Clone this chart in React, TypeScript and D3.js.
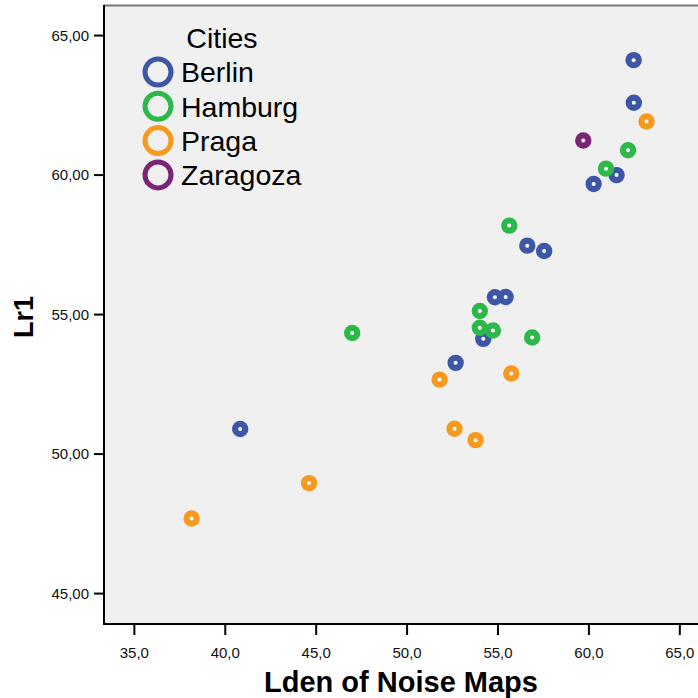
import * as d3 from "d3";

// Scatter: Lden of noise maps vs Lr1, one colour per city.

const cities = ["Berlin", "Hamburg", "Praga", "Zaragoza"];
const cityColors = ["#3d56a8", "#2fb84a", "#f7991e", "#7a2478"];

const berlinX = [62.46, 62.47, 61.52, 60.26, 56.61, 57.54, 54.83, 55.42, 54.19, 52.67, 40.82];
const berlinY = [64.12, 62.59, 60.0, 59.68, 57.47, 57.28, 55.62, 55.63, 54.13, 53.27, 50.9];
const hamburgX = [62.15, 60.94, 55.62, 54.0, 54.0, 54.72, 56.88, 46.98];
const hamburgY = [60.89, 60.23, 58.19, 55.13, 54.53, 54.43, 54.18, 54.34];
const pragaX = [63.17, 55.73, 51.79, 52.61, 53.77, 44.61, 38.15];
const pragaY = [61.92, 52.89, 52.67, 50.91, 50.5, 48.96, 47.69];
const zaragozaX = [59.69];
const zaragozaY = [61.24];

const xTicks = [35, 40, 45, 50, 55, 60, 65];
const yTicks = [45, 50, 55, 60, 65];

const W = 698;
const H = 698;
const FONT = "'Liberation Sans', Arial, sans-serif";

export default function App() {
  const x = d3.scaleLinear().domain([33.33, 66.0]).range([104, 698]);
  const y = d3.scaleLinear().domain([43.91, 66.06]).range([624, 6]);

  const series = [
    { xs: berlinX, ys: berlinY },
    { xs: hamburgX, ys: hamburgY },
    { xs: pragaX, ys: pragaY },
    { xs: zaragozaX, ys: zaragozaY },
  ];

  const fmtX = (v: number) => v.toFixed(1).replace(".", ",");
  const fmtY = (v: number) => v.toFixed(2).replace(".", ",");

  return (
    <svg
      width={W}
      height={H}
      style={{ position: "absolute", left: 0, top: 0, background: "#fff" }}
      fontFamily={FONT}
    >
      {/* plot area */}
      <rect x={104} y={6} width={W - 104} height={618} fill="#f0f0f0" />
      <line x1={104} x2={W} y1={5.5} y2={5.5} stroke="#777" strokeWidth={2} />
      <line x1={104} x2={104} y1={5} y2={625} stroke="#000" strokeWidth={2} />
      <line x1={103} x2={W} y1={624} y2={624} stroke="#000" strokeWidth={2} />

      {/* y axis */}
      {yTicks.map((t) => (
        <g key={t}>
          <line x1={94} x2={104} y1={y(t)} y2={y(t)} stroke="#000" strokeWidth={2} />
          <text x={89} y={y(t)} dy="0.35em" textAnchor="end" fontSize={15} fill="#111">
            {fmtY(t)}
          </text>
        </g>
      ))}

      {/* x axis */}
      {xTicks.map((t) => (
        <g key={t}>
          <line x1={x(t)} x2={x(t)} y1={624} y2={635} stroke="#000" strokeWidth={2} />
          <text x={x(t)} y={658} textAnchor="middle" fontSize={15} fill="#111">
            {fmtX(t)}
          </text>
        </g>
      ))}

      <text x={401} y={692} textAnchor="middle" fontSize={29} fontWeight="bold">
        Lden of Noise Maps
      </text>
      <text
        transform="translate(33,317) rotate(-90)"
        textAnchor="middle"
        fontSize={27}
        fontWeight="bold"
      >
        Lr1
      </text>

      {/* points */}
      {series.map((s, i) =>
        s.xs.map((xv, j) => (
          <g key={`${i}-${j}`}>
            <circle cx={x(xv)} cy={y(s.ys[j])} r={8.2} fill={cityColors[i]} />
            <circle cx={x(xv)} cy={y(s.ys[j])} r={2} fill="#fff" />
          </g>
        ))
      )}

      {/* legend */}
      <text x={222} y={48} textAnchor="middle" fontSize={28.5}>
        Cities
      </text>
      {cities.map((c, i) => (
        <g key={c} transform={`translate(0,${72 + i * 34.3})`}>
          <circle cx={158} cy={0} r={13} fill="none" stroke={cityColors[i]} strokeWidth={5} />
          <text x={181} y={0} dy="0.36em" fontSize={28.5}>
            {c}
          </text>
        </g>
      ))}
    </svg>
  );
}
